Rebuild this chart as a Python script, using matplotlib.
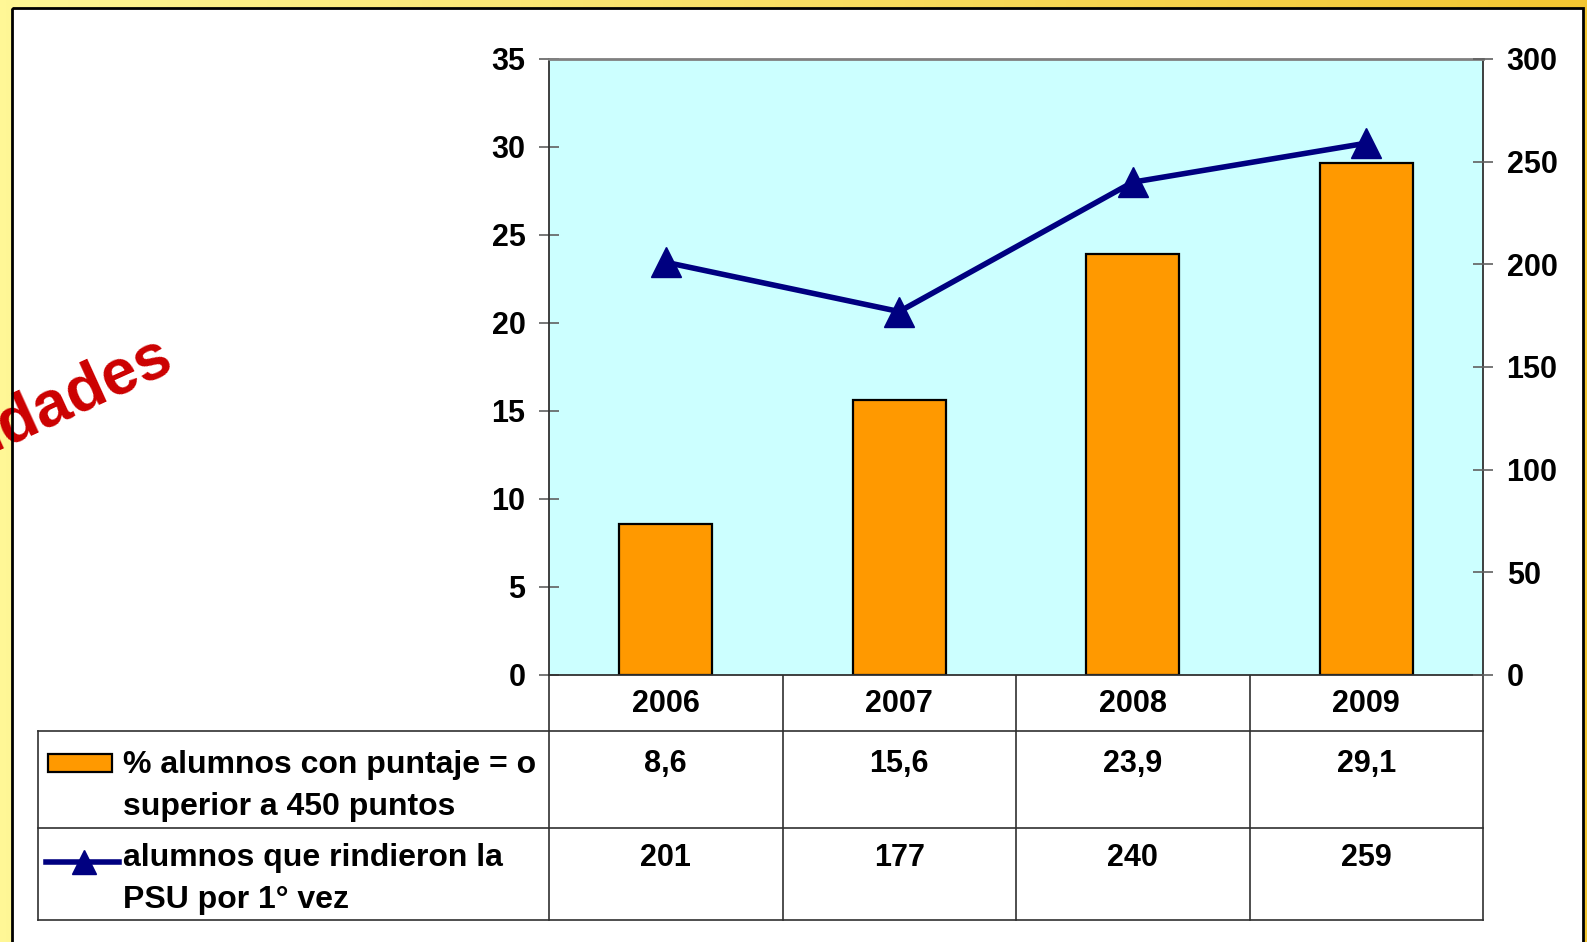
"""PSU chart: % alumnos >= 450 puntos (bars) and alumnos que rindieron (line)."""
import numpy as np
import matplotlib
matplotlib.use("Agg")
import matplotlib.pyplot as plt
from matplotlib.patches import Rectangle
from matplotlib.lines import Line2D
from matplotlib.transforms import blended_transform_factory

years = ["2006", "2007", "2008", "2009"]
pct_450 = [8.6, 15.6, 23.9, 29.1]
n_psu = [201, 177, 240, 259]
pct_labels = ["8,6", "15,6", "23,9", "29,1"]
n_labels = ["201", "177", "240", "259"]
left_ticks = [0, 5, 10, 15, 20, 25, 30, 35]
right_ticks = [0, 50, 100, 150, 200, 250, 300]

W, H = 1587, 942
plt.rcParams["font.family"] = ["Liberation Sans", "DejaVu Sans"]
plt.rcParams["font.weight"] = "bold"

fig = plt.figure(figsize=(W / 100, H / 100), dpi=100)

# background overlay in pixel coordinates
bg = fig.add_axes([0, 0, 1, 1], zorder=0)
bg.set_xlim(0, W); bg.set_ylim(H, 0); bg.axis("off")
grad = np.linspace(0, 1, 256)[None, :, None]
c0 = np.array([255, 247, 150]) / 255; c1 = np.array([243, 198, 49]) / 255
bg.imshow(c0 + (c1 - c0) * grad, extent=[0, W, H, 0], aspect="auto", zorder=0)
bg.add_patch(Rectangle((12, 8), 1571, 980, fc="white", ec="none", zorder=1))
bg.text(176, 368, "idades", color="#CC0000", fontsize=46, fontweight="bold",
        rotation=24.5, rotation_mode="anchor", ha="right", va="baseline", zorder=2)
bg.add_patch(Rectangle((12, 8), 1571, 980, fc="none", ec="black", lw=2, zorder=3))

# main chart
ax = fig.add_axes([549 / W, 1 - 675 / H, (1483 - 549) / W, (675 - 59) / H], zorder=1)
ax.set_facecolor("#CCFFFF")
x = np.arange(len(years))
ax.bar(x, pct_450, width=0.4, color="#FF9900", edgecolor="black", lw=1.6, zorder=2)
ax.set_xlim(-0.5, 3.5); ax.set_ylim(0, 35)
ax.set_yticks(left_ticks); ax.set_xticks([])
ax.tick_params(axis="y", direction="inout", length=14, width=1.2, color="#606060",
               labelsize=22, pad=10)
for s in ("left", "right", "bottom"):
    ax.spines[s].set_color("#303030"); ax.spines[s].set_linewidth(1.3)
ax.spines["top"].set_color("#808080"); ax.spines["top"].set_linewidth(2)

ax2 = ax.twinx()
ax2.plot(x, n_psu, color="#000080", lw=4.0, marker="^", ms=22, zorder=3)
ax2.set_ylim(0, 300); ax2.set_yticks(right_ticks)
ax2.tick_params(axis="y", direction="inout", length=14, width=1.2, color="#606060",
                labelsize=22, pad=10)
for s in ax2.spines.values():
    s.set_visible(False)
for lab in ax.get_yticklabels() + ax2.get_yticklabels():
    lab.set_fontweight("bold")

# data table below the chart
tr = blended_transform_factory(ax.transData, bg.transData)
lc = "#303030"
for xv in np.arange(-0.5, 4, 1):
    bg.plot([xv, xv], [675, 920], color=lc, lw=1.2, transform=tr, zorder=3)
for yv in (731, 828, 920):
    bg.plot([38, 1483], [yv, yv], color=lc, lw=1.2, zorder=3)
bg.plot([38, 38], [731, 920], color=lc, lw=1.2, zorder=3)

for i in range(len(years)):
    bg.text(x[i], 712, years[i], transform=tr, ha="center", va="baseline", fontsize=22, zorder=4)
    bg.text(x[i], 772, pct_labels[i], transform=tr, ha="center", va="baseline", fontsize=22, zorder=4)
    bg.text(x[i], 866, n_labels[i], transform=tr, ha="center", va="baseline", fontsize=22, zorder=4)

bg.add_patch(Rectangle((48, 754), 64, 18, fc="#FF9900", ec="black", lw=1.6, zorder=4))
bg.add_line(Line2D([46, 119], [862, 862], color="#000080", lw=4.0, zorder=4))
bg.plot([84], [862], marker="^", ms=17, color="#000080", zorder=5)
for txt, yv in [("% alumnos con puntaje = o", 773), ("superior a 450 puntos", 815),
                ("alumnos que rindieron la", 866), ("PSU por 1° vez", 908)]:
    bg.text(123, yv, txt, ha="left", va="baseline", fontsize=23, zorder=4)

fig.savefig("out.png", dpi=100)
